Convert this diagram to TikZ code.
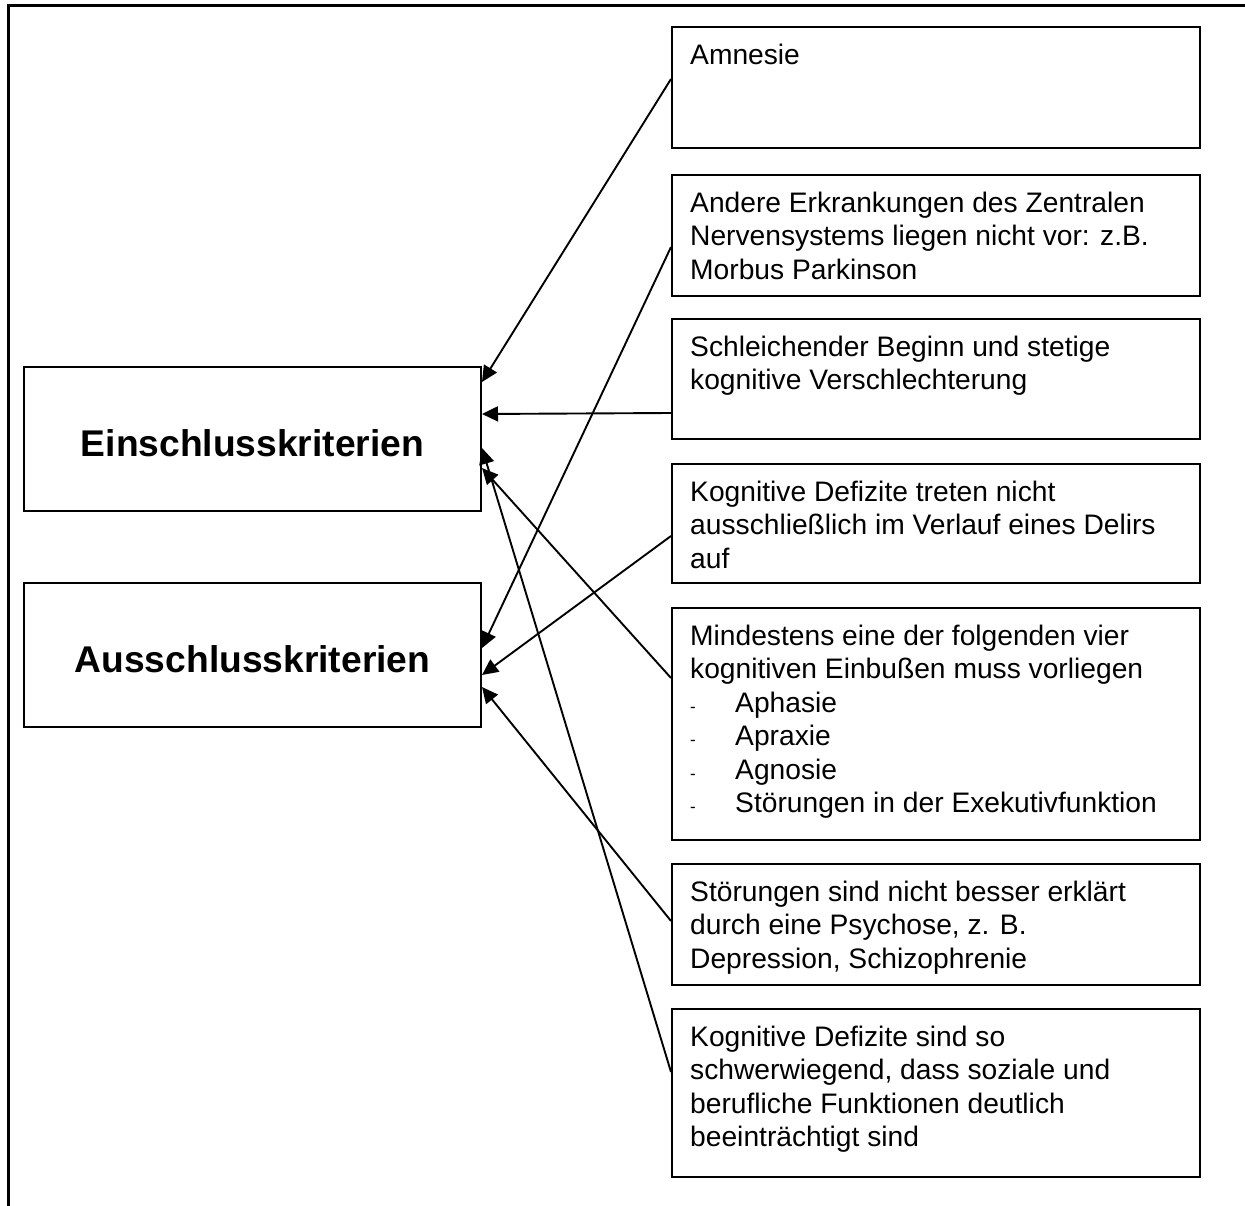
\documentclass[tikz,border=0pt]{standalone}
\usepackage{fontspec}
\setmainfont{Liberation Sans}
\usetikzlibrary{arrows.meta,calc}
\begin{document}
\begin{tikzpicture}[x=1pt,y=-1pt,
  crit/.style={draw=black, line width=2pt, inner sep=0pt, anchor=north west, minimum width=528pt},
  mainbox/.style={draw=black, line width=2pt, inner sep=0pt, anchor=north west, minimum width=457pt, minimum height=144pt},
  txt/.style={anchor=north west, inner sep=0pt, align=left, font=\fontsize{28.2}{33.5}\selectfont},
  big/.style={inner sep=0pt, font=\fontsize{37.2}{42}\selectfont\bfseries},
  conn/.style={line width=1.9pt, -{Triangle[length=16pt,width=15pt]}},
  framestyle/.style={line width=3pt}]
\newcommand{\tstrut}{\rule{0pt}{23pt}}
\newcommand{\dashitem}{\makebox[45pt][l]{\fontsize{17}{17}\selectfont -}}
\useasboundingbox (0,0) rectangle (1245,1206);
% frame
\coordinate (fa) at (8.5,1206);
\coordinate (fb) at (8.5,5.5);
\coordinate (fc) at (1245,5.5);
\draw[framestyle] (fa) -- (fb) -- (fc);
% left boxes
\node[mainbox] (ein) at (23,366) {};
\node[mainbox] (aus) at (23,582) {};
\node[big] (einl) at ($(ein.center)+(0,4.5)$) {Einschlusskriterien};
\node[big] (ausl) at ($(aus.center)+(0,4.5)$) {Ausschlusskriterien};
% right boxes
\node[crit, minimum height=121pt] (amn) at (671,26) {};
\node[crit, minimum height=121pt] (and) at (671,174) {};
\node[crit, minimum height=120pt] (sch) at (671,318) {};
\node[crit, minimum height=119pt] (kdt) at (671,463) {};
\node[crit, minimum height=232pt] (min) at (671,607) {};
\node[crit, minimum height=121pt] (sto) at (671,863) {};
\node[crit, minimum height=168pt] (kds) at (671,1008) {};
% texts
\node[txt] (amnt) at ($(amn.north west)+(19,15)$) {\tstrut Amnesie};
\node[txt] (andt) at ($(and.north west)+(19,15)$) {\tstrut Andere Erkrankungen des Zentralen\\Nervensystems liegen nicht vor: z.B.\\Morbus Parkinson};
\node[txt] (scht) at ($(sch.north west)+(19,15)$) {\tstrut Schleichender Beginn und stetige\\kognitive Verschlechterung};
\node[txt] (kdtt) at ($(kdt.north west)+(19,15)$) {\tstrut Kognitive Defizite treten nicht\\ausschließlich im Verlauf eines Delirs\\auf};
\node[txt] (mint) at ($(min.north west)+(19,15)$) {\tstrut Mindestens eine der folgenden vier\\kognitiven Einbußen muss vorliegen\\\dashitem Aphasie\\\dashitem Apraxie\\\dashitem Agnosie\\\dashitem Störungen in der Exekutivfunktion};
\node[txt] (stot) at ($(sto.north west)+(19,15)$) {\tstrut Störungen sind nicht besser erklärt\\durch eine Psychose, z. B.\\Depression, Schizophrenie};
\node[txt] (kdst) at ($(kds.north west)+(19,15)$) {\tstrut Kognitive Defizite sind so\\schwerwiegend, dass soziale und\\berufliche Funktionen deutlich\\beeinträchtigt sind};
% connectors
\draw[conn] ($(amn.north west)+(0,53)$) -- ($(ein.north east)+(0,16)$);
\draw[conn] ($(and.north west)+(0,73)$) -- ($(aus.north east)+(0,66)$);
\draw[conn] ($(sch.north west)+(0,95)$) -- ($(ein.north east)+(0,48)$);
\draw[conn] ($(kdt.north west)+(0,73)$) -- ($(aus.north east)+(0,93)$);
\draw[conn] ($(min.north west)+(0,71)$) -- ($(ein.north east)+(0,102)$);
\draw[conn] ($(sto.north west)+(0,58)$) -- ($(aus.north east)+(0,105)$);
\draw[conn] ($(kds.north west)+(0,64)$) -- ($(ein.north east)+(0,82)$);
\end{tikzpicture}
\end{document}
